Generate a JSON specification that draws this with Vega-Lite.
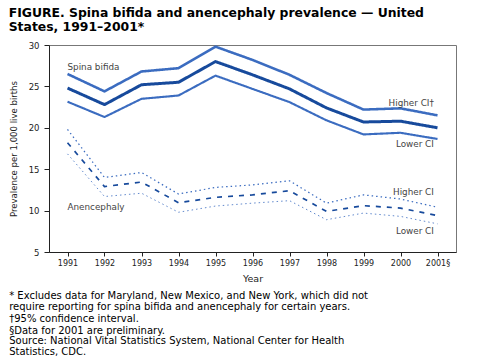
{
  "$schema": "https://vega.github.io/schema/vega-lite/v6.json",
  "autosize": {"type": "pad"},
  "padding": {"left": 7, "top": 6, "right": 5, "bottom": 0},
  "background": "white",
  "title": {
    "text": ["FIGURE. Spina bifida and anencephaly prevalence — United", "States, 1991–2001*"],
    "anchor": "start",
    "frame": "bounds",
    "font": "DejaVu Sans",
    "fontSize": 12.4,
    "fontWeight": "bold",
    "lineHeight": 14.5,
    "color": "#000",
    "offset": 7,
    "dx": 1
  },
  "datasets": {
    "series": [
      {"year": 1991, "series": "sb", "value": 24.8},
      {"year": 1992, "series": "sb", "value": 22.8},
      {"year": 1993, "series": "sb", "value": 25.2},
      {"year": 1994, "series": "sb", "value": 25.5},
      {"year": 1995, "series": "sb", "value": 28.0},
      {"year": 1996, "series": "sb", "value": 26.4},
      {"year": 1997, "series": "sb", "value": 24.7},
      {"year": 1998, "series": "sb", "value": 22.4},
      {"year": 1999, "series": "sb", "value": 20.7},
      {"year": 2000, "series": "sb", "value": 20.8},
      {"year": 2001, "series": "sb", "value": 20.0},
      {"year": 1991, "series": "sb_hi", "value": 26.5},
      {"year": 1992, "series": "sb_hi", "value": 24.4},
      {"year": 1993, "series": "sb_hi", "value": 26.8},
      {"year": 1994, "series": "sb_hi", "value": 27.2},
      {"year": 1995, "series": "sb_hi", "value": 29.8},
      {"year": 1996, "series": "sb_hi", "value": 28.2},
      {"year": 1997, "series": "sb_hi", "value": 26.4},
      {"year": 1998, "series": "sb_hi", "value": 24.2},
      {"year": 1999, "series": "sb_hi", "value": 22.2},
      {"year": 2000, "series": "sb_hi", "value": 22.35},
      {"year": 2001, "series": "sb_hi", "value": 21.5},
      {"year": 1991, "series": "sb_lo", "value": 23.15},
      {"year": 1992, "series": "sb_lo", "value": 21.3},
      {"year": 1993, "series": "sb_lo", "value": 23.5},
      {"year": 1994, "series": "sb_lo", "value": 23.9},
      {"year": 1995, "series": "sb_lo", "value": 26.3},
      {"year": 1996, "series": "sb_lo", "value": 24.7},
      {"year": 1997, "series": "sb_lo", "value": 23.1},
      {"year": 1998, "series": "sb_lo", "value": 20.9},
      {"year": 1999, "series": "sb_lo", "value": 19.2},
      {"year": 2000, "series": "sb_lo", "value": 19.4},
      {"year": 2001, "series": "sb_lo", "value": 18.65},
      {"year": 1991, "series": "an", "value": 18.2},
      {"year": 1992, "series": "an", "value": 12.9},
      {"year": 1993, "series": "an", "value": 13.45},
      {"year": 1994, "series": "an", "value": 10.95},
      {"year": 1995, "series": "an", "value": 11.6},
      {"year": 1996, "series": "an", "value": 11.9},
      {"year": 1997, "series": "an", "value": 12.4},
      {"year": 1998, "series": "an", "value": 9.9},
      {"year": 1999, "series": "an", "value": 10.6},
      {"year": 2000, "series": "an", "value": 10.3},
      {"year": 2001, "series": "an", "value": 9.4},
      {"year": 1991, "series": "an_hi", "value": 19.8},
      {"year": 1992, "series": "an_hi", "value": 14.0},
      {"year": 1993, "series": "an_hi", "value": 14.6},
      {"year": 1994, "series": "an_hi", "value": 12.0},
      {"year": 1995, "series": "an_hi", "value": 12.8},
      {"year": 1996, "series": "an_hi", "value": 13.1},
      {"year": 1997, "series": "an_hi", "value": 13.6},
      {"year": 1998, "series": "an_hi", "value": 10.9},
      {"year": 1999, "series": "an_hi", "value": 11.9},
      {"year": 2000, "series": "an_hi", "value": 11.4},
      {"year": 2001, "series": "an_hi", "value": 10.4},
      {"year": 1991, "series": "an_lo", "value": 16.85},
      {"year": 1992, "series": "an_lo", "value": 11.7},
      {"year": 1993, "series": "an_lo", "value": 12.1},
      {"year": 1994, "series": "an_lo", "value": 9.8},
      {"year": 1995, "series": "an_lo", "value": 10.55},
      {"year": 1996, "series": "an_lo", "value": 10.9},
      {"year": 1997, "series": "an_lo", "value": 11.2},
      {"year": 1998, "series": "an_lo", "value": 8.9},
      {"year": 1999, "series": "an_lo", "value": 9.7},
      {"year": 2000, "series": "an_lo", "value": 9.3},
      {"year": 2001, "series": "an_lo", "value": 8.4}
    ],
    "labels": [
      {"label": "Spina bifida", "year": 1991, "value": 27.4, "side": "left"},
      {"label": "Anencephaly", "year": 1991, "value": 10.4, "side": "left"},
      {"label": "Higher  CI†", "year": 2000.9, "value": 23.0, "side": "right"},
      {"label": "Lower CI", "year": 2000.9, "value": 18.1, "side": "right"},
      {"label": "Higher CI", "year": 2000.9, "value": 12.3, "side": "right"},
      {"label": "Lower CI", "year": 2000.9, "value": 7.55, "side": "right"}
    ]
  },
  "config": {
    "view": {"stroke": "#777", "strokeWidth": 1},
    "axis": {
      "labelFont": "DejaVu Sans",
      "titleFont": "DejaVu Sans",
      "labelColor": "#222",
      "titleColor": "#222",
      "domainColor": "#222",
      "tickColor": "#222",
      "grid": false
    }
  },
  "vconcat": [
    {
      "width": 407,
      "height": 207,
      "title": {
        "text": [
          "* Excludes data for Maryland, New Mexico, and New York, which did not",
          "  require reporting for spina bifida and anencephaly for certain years.",
          "†95% confidence interval.",
          "§Data for 2001 are preliminary."
        ],
        "subtitle": ["Source: National Vital Statistics System, National Center for Health", "Statistics, CDC."],
        "orient": "bottom",
        "anchor": "start",
        "frame": "bounds",
        "font": "DejaVu Sans",
        "fontSize": 10,
        "fontWeight": "normal",
        "lineHeight": 11.7,
        "color": "#000",
        "subtitleFont": "DejaVu Sans",
        "subtitleFontSize": 10,
        "subtitleLineHeight": 11.7,
        "subtitleColor": "#000",
        "subtitlePadding": 0,
        "offset": 8,
        "dx": 1
      },
      "layer": [
        {
          "data": {"name": "series"},
          "mark": {"type": "line", "strokeCap": "butt", "strokeJoin": "round"},
          "encoding": {
            "x": {
              "field": "year",
              "type": "quantitative",
              "scale": {"domain": [1990.5, 2001.5], "nice": false, "zero": false},
              "axis": {
                "values": [1991, 1992, 1993, 1994, 1995, 1996, 1997, 1998, 1999, 2000, 2001],
                "labelExpr": "datum.value == 2001 ? '2001§' : datum.value",
                "labelFontSize": 8,
                "tickSize": 4,
                "labelPadding": 3,
                "title": "Year",
                "titleFontSize": 9.5,
                "titleFontWeight": "normal",
                "titlePadding": 6
              }
            },
            "y": {
              "field": "value",
              "type": "quantitative",
              "scale": {"domain": [5, 30], "nice": false, "zero": false},
              "axis": {
                "values": [5, 10, 15, 20, 25, 30],
                "labelFontSize": 8.5,
                "tickSize": 5,
                "labelPadding": 5,
                "title": "Prevalence per 1,000 live births",
                "titleFont": "DejaVu Sans Condensed, Liberation Sans Narrow, Liberation Sans, sans-serif",
                "titleFontSize": 9.5,
                "titleFontWeight": "normal",
                "titlePadding": 10
              }
            },
            "detail": {"field": "series"},
            "color": {
              "field": "series",
              "type": "nominal",
              "scale": {
                "domain": ["sb", "sb_hi", "sb_lo", "an", "an_hi", "an_lo"],
                "range": ["#174a9c", "#3b6cc0", "#3b6cc0", "#174a9c", "#3b6cc0", "#3b6cc0"]
              },
              "legend": null
            },
            "strokeWidth": {
              "field": "series",
              "type": "nominal",
              "scale": {
                "domain": ["sb", "sb_hi", "sb_lo", "an", "an_hi", "an_lo"],
                "range": [3, 0.8, 0.8, 3.5, 1.2, 1.2]
              },
              "legend": null
            },
            "strokeDash": {
              "field": "series",
              "type": "nominal",
              "scale": {
                "domain": ["sb", "sb_hi", "sb_lo", "an", "an_hi", "an_lo"],
                "range": [[1, 0], [1, 0], [1, 0], [5, 6], [1.5, 3], [1.5, 3]]
              },
              "legend": null
            }
          }
        },
        {
          "data": {"name": "labels"},
          "transform": [{"filter": "datum.side == 'left'"}],
          "mark": {"type": "text", "align": "left", "baseline": "middle", "font": "DejaVu Sans", "fontSize": 8.8, "color": "#444"},
          "encoding": {
            "x": {"field": "year", "type": "quantitative"},
            "y": {"field": "value", "type": "quantitative"},
            "text": {"field": "label"}
          }
        },
        {
          "data": {"name": "labels"},
          "transform": [{"filter": "datum.side == 'right'"}],
          "mark": {"type": "text", "align": "right", "baseline": "middle", "font": "DejaVu Sans", "fontSize": 8.8, "color": "#444"},
          "encoding": {
            "x": {"field": "year", "type": "quantitative"},
            "y": {"field": "value", "type": "quantitative"},
            "text": {"field": "label"}
          }
        }
      ]
    }
  ]
}
